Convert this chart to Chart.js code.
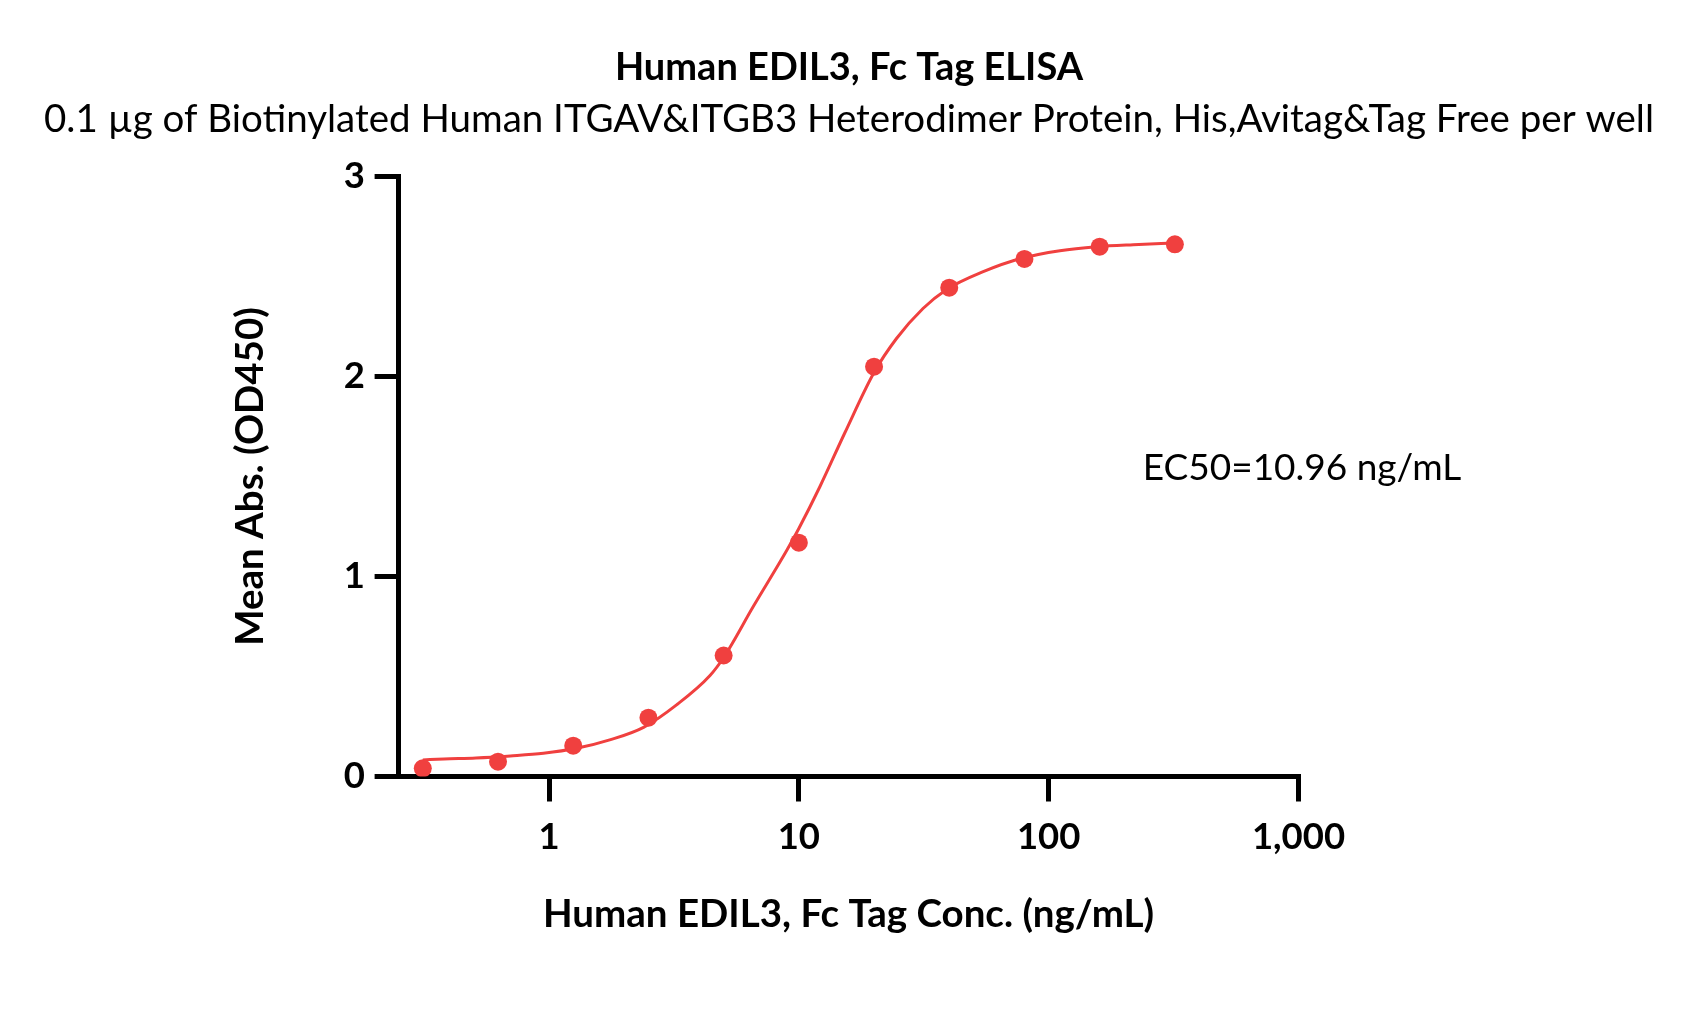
<!DOCTYPE html>
<html>
<head>
<meta charset="utf-8">
<script src="https://cdn.jsdelivr.net/npm/chart.js@4"></script>
<style>
  html, body { margin: 0; padding: 0; background: #fff; }
  #wrap { width: 1698px; height: 1032px; }
</style>
</head>
<body>
<div id="wrap"><canvas id="grafico" width="1698" height="1032"></canvas></div>
<script>
// measured points (ng/mL, OD450)
const concentracoes = [0.3125, 0.625, 1.25, 2.5, 5, 10, 20, 40, 80, 160, 320];
const absorbancias = [0.041, 0.074, 0.154, 0.294, 0.605, 1.169, 2.049, 2.444, 2.588, 2.649, 2.661];

// fitted curve
const curvaX = [0.3125, 0.38, 0.51, 0.7, 0.95, 1.29, 1.75, 2.39, 3.24, 4.41, 5, 6.57, 8.94, 10, 12.15, 15.3, 20, 24.6, 31.4, 38.8, 54.7, 77.9, 110.9, 155.5, 217.9, 320];
const curvaY = [0.083, 0.088, 0.093, 0.103, 0.116, 0.141, 0.183, 0.246, 0.358, 0.505, 0.595, 0.85, 1.13, 1.24, 1.45, 1.72, 2.02, 2.19, 2.34, 2.433, 2.524, 2.591, 2.629, 2.649, 2.659, 2.667];

const ticksX = [1, 10, 100, 1000];
const ticksY = [0, 1, 2, 3];

const titulo = 'Human EDIL3, Fc Tag ELISA';
const subtitulo = '0.1 \u00b5g of Biotinylated Human ITGAV&ITGB3 Heterodimer Protein, His,Avitag&Tag Free per well';
const tituloX = 'Human EDIL3, Fc Tag Conc. (ng/mL)';
const tituloY = 'Mean Abs. (OD450)';
const textoEC50 = 'EC50=10.96 ng/mL';
const posEC50 = { x: 238, y: 1.54 };

const vermelho = '#F0403F';
const fonte = 'Lato';

// texto do EC50 dentro da area do grafico
const pluginEC50 = {
    id: 'ec50',
    afterDatasetsDraw(chart) {
        const ctx = chart.ctx;
        const px = chart.scales.x.getPixelForValue(posEC50.x);
        const py = chart.scales.y.getPixelForValue(posEC50.y);
        ctx.save();
        ctx.font = '37px ' + fonte;
        ctx.fillStyle = '#000';
        ctx.textAlign = 'left';
        ctx.textBaseline = 'middle';
        ctx.fillText(textoEC50, px, py);
        ctx.restore();
    }
};

const ctx = document.getElementById('grafico').getContext('2d');

new Chart(ctx, {
    type: 'scatter',
    data: {
        datasets: [{
            label: 'Pontos',
            data: concentracoes.map((c, i) => ({ x: c, y: absorbancias[i] })),
            backgroundColor: vermelho,
            borderColor: vermelho,
            pointRadius: 9,
            pointHoverRadius: 9,
            borderWidth: 0,
            showLine: false,
            order: 0
        }, {
            label: 'Curva',
            data: curvaX.map((c, i) => ({ x: c, y: curvaY[i] })),
            borderColor: vermelho,
            borderWidth: 3,
            pointRadius: 0,
            showLine: true,
            fill: false,
            cubicInterpolationMode: 'monotone',
            order: 1
        }]
    },
    options: {
        responsive: false,
        animation: false,
        events: [],
        layout: { padding: 0 },
        plugins: {
            legend: { display: false },
            tooltip: { enabled: false },
            title: {
                display: true,
                text: titulo,
                color: '#000',
                font: { family: fonte, size: 38, weight: 'bold' },
                padding: { top: 45.2, bottom: 6.1 }
            },
            subtitle: {
                display: true,
                text: subtitulo,
                color: '#000',
                font: { family: fonte, size: 38.5, weight: 'normal' },
                padding: { top: 0, bottom: 33.4 }
            }
        },
        scales: {
            x: {
                type: 'logarithmic',
                min: 0.25,
                max: 1000,
                afterBuildTicks: (s) => { s.ticks = ticksX.map(v => ({ value: v, major: true })); },
                afterFit: (s) => { s.height = 255.5; },
                ticks: {
                    autoSkip: false,
                    maxRotation: 0,
                    padding: 13.6,
                    color: '#000',
                    font: { family: fonte, size: 36.5, weight: 'bold' },
                    callback: (v) => Number(v).toLocaleString('en-US')
                },
                grid: {
                    drawOnChartArea: false,
                    drawTicks: true,
                    tickLength: 25,
                    tickWidth: 5,
                    tickColor: '#000',
                    lineWidth: 5,
                    color: '#000'
                },
                border: { display: true, color: '#000', width: 5 },
                title: {
                    display: true,
                    text: tituloX,
                    color: '#000',
                    font: { family: fonte, size: 38.5, weight: 'bold' },
                    padding: { top: 0, bottom: 93.9 }
                }
            },
            y: {
                type: 'linear',
                min: 0,
                max: 3,
                afterBuildTicks: (s) => { s.ticks = ticksY.map(v => ({ value: v })); },
                afterFit: (s) => { s.width = 398.6; },
                ticks: {
                    padding: 9.6,
                    color: '#000',
                    font: { family: fonte, size: 36.5, weight: 'bold' }
                },
                grid: {
                    drawOnChartArea: false,
                    drawTicks: true,
                    tickLength: 24,
                    tickWidth: 5,
                    tickColor: '#000',
                    lineWidth: 5,
                    color: '#000'
                },
                border: { display: true, color: '#000', width: 5 },
                title: {
                    display: true,
                    text: tituloY,
                    color: '#000',
                    font: { family: fonte, size: 38.5, weight: 'bold' },
                    padding: { top: 227.9, bottom: 0 }
                }
            },
            // eixo vazio so para reservar o espaco da direita
            yDireita: {
                type: 'linear',
                position: 'right',
                display: false,
                afterFit: (s) => { s.width = 399.5; }
            }
        }
    },
    plugins: [pluginEC50]
});
</script>
</body>
</html>
